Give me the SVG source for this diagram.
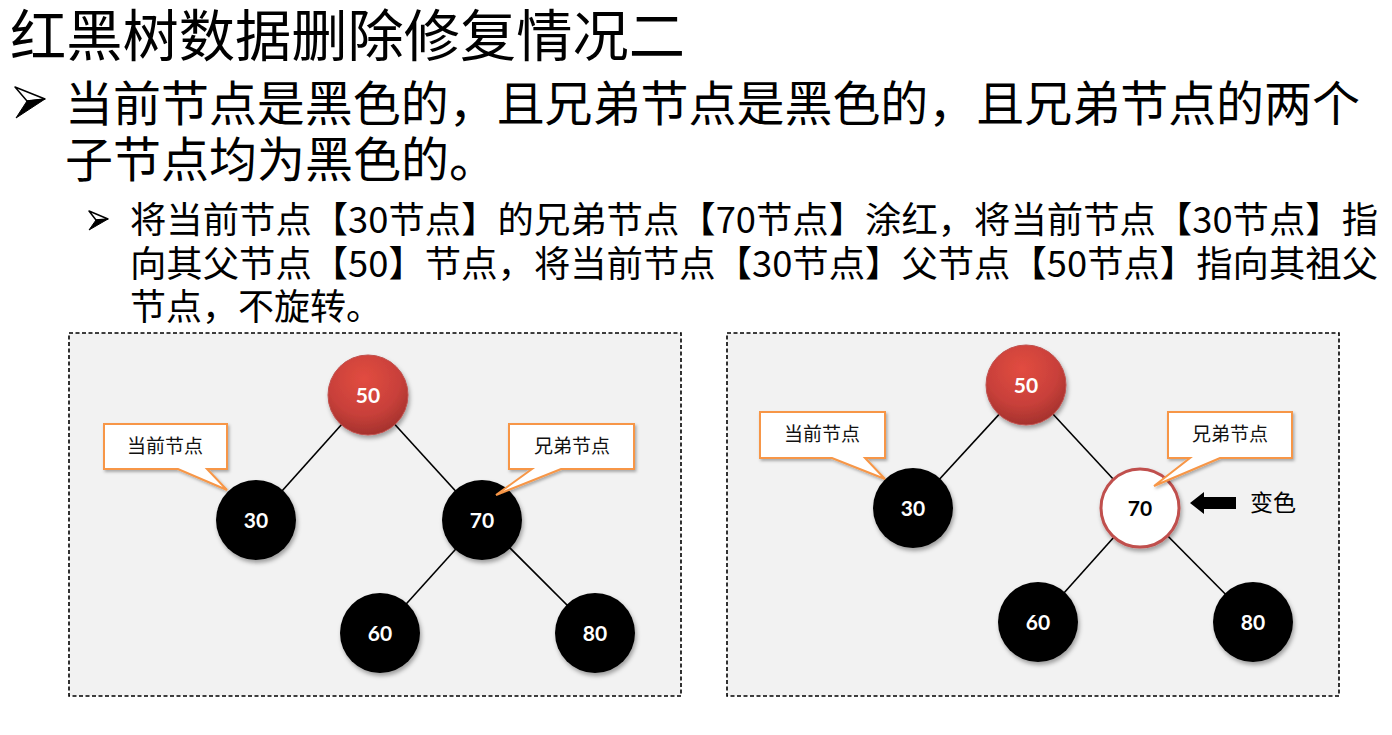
<svg xmlns="http://www.w3.org/2000/svg" width="1392" height="735" viewBox="0 0 1392 735">
<defs>
<radialGradient id="red" cx="0.45" cy="0.3" r="0.75">
<stop offset="0" stop-color="#e24c40"/>
<stop offset="0.6" stop-color="#c8403a"/>
<stop offset="1" stop-color="#9e2f2a"/>
</radialGradient>
<filter id="sh" x="-30%" y="-30%" width="160%" height="170%">
<feDropShadow dx="1.5" dy="3" stdDeviation="2" flood-color="#000" flood-opacity="0.35"/>
</filter>
<filter id="shc" x="-20%" y="-20%" width="140%" height="150%">
<feDropShadow dx="1.5" dy="2" stdDeviation="1.5" flood-color="#000" flood-opacity="0.3"/>
</filter>
<style>
.t{font-family:"Noto Sans CJK SC","Noto Sans",sans-serif;fill:#000}
.panel{fill:#f2f2f2;stroke:#000;stroke-width:1.6;stroke-dasharray:4 2.5}
.edge{stroke:#000;stroke-width:1.6;fill:none}
.blk{fill:#000;filter:url(#sh)}
.redn{fill:url(#red);stroke:#c0504d;stroke-width:1;filter:url(#sh)}
.wht{fill:#fff;stroke:#c0504d;stroke-width:3;filter:url(#sh)}
.lbl{font-family:Lato,"Open Sans",sans-serif;font-weight:bold;font-size:21px;fill:#fff;text-anchor:middle}
.lblk{fill:#000}
.call{fill:#fff;stroke:#f79646;stroke-width:2;stroke-linejoin:miter;filter:url(#shc)}
.ct{font-family:"Noto Sans CJK SC",sans-serif;font-size:19px;fill:#111;text-anchor:middle}
.bw{fill:#fff;stroke:#000;stroke-width:1.5;stroke-linejoin:round}
.bk{fill:#000;stroke:#000;stroke-width:1;stroke-linejoin:round}
</style>
</defs>
<rect width="1392" height="735" fill="#fff"/>

<g id="title">
<text class="t" x="10" y="56" font-size="56" textLength="675" lengthAdjust="spacingAndGlyphs">红黑树数据删除修复情况二</text>
</g>

<g id="bullet1">
<polygon class="bw" points="15,87 45,99 27,101"/>
<polygon class="bk" points="27,101 45,99 16,118"/>
<text class="t" x="65" y="121" font-size="48" textLength="1295" lengthAdjust="spacingAndGlyphs">当前节点是黑色的，且兄弟节点是黑色的，且兄弟节点的两个</text>
<text class="t" x="65" y="177" font-size="48">子节点均为黑色的。</text>
</g>

<g id="bullet2">
<polygon class="bw" points="89,211 108,219 96,220"/>
<polygon class="bk" points="96,220 108,219 89,230"/>
<text class="t" x="130" y="233" font-size="36" textLength="1248" lengthAdjust="spacingAndGlyphs">将当前节点【30节点】的兄弟节点【70节点】涂红，将当前节点【30节点】指</text>
<text class="t" x="130" y="277" font-size="36" textLength="1248" lengthAdjust="spacingAndGlyphs">向其父节点【50】节点，将当前节点【30节点】父节点【50节点】指向其祖父</text>
<text class="t" x="130" y="320" font-size="36">节点，不旋转。</text>
</g>

<g id="panel-left">
<rect class="panel" x="69" y="333" width="612" height="363"/>
</g>
<g id="panel-right">
<rect class="panel" x="727" y="333" width="612" height="363"/>
</g>

<g id="connectors">
<line class="edge" x1="368" y1="395" x2="256" y2="520"/>
<line class="edge" x1="368" y1="395" x2="482" y2="520"/>
<line class="edge" x1="482" y1="520" x2="380" y2="633"/>
<line class="edge" x1="482" y1="520" x2="595" y2="633"/>
<line class="edge" x1="1026" y1="385" x2="913" y2="508"/>
<line class="edge" x1="1026" y1="385" x2="1140" y2="508"/>
<line class="edge" x1="1140" y1="508" x2="1038" y2="622"/>
<line class="edge" x1="1140" y1="508" x2="1253" y2="622"/>
</g>

<g id="L50"><circle class="redn" cx="368" cy="395" r="40"/><text class="lbl" x="368" y="403">50</text></g>
<g id="L30"><circle class="blk" cx="256" cy="520" r="40"/><text class="lbl" x="256" y="528">30</text></g>
<g id="L70"><circle class="blk" cx="482" cy="520" r="40"/><text class="lbl" x="482" y="528">70</text></g>
<g id="L60"><circle class="blk" cx="380" cy="633" r="40"/><text class="lbl" x="380" y="641">60</text></g>
<g id="L80"><circle class="blk" cx="595" cy="633" r="40"/><text class="lbl" x="595" y="641">80</text></g>

<g id="L-call-current">
<path class="call" d="M104,424 H227 V469 H207 L227,490 L178,469 H104 Z"/>
<text class="ct" x="165" y="453">当前节点</text>
</g>
<g id="L-call-sibling">
<path class="call" d="M509,424 H634 V469 H561 L496,495 L532,469 H509 Z"/>
<text class="ct" x="572" y="453">兄弟节点</text>
</g>

<g id="R50"><circle class="redn" cx="1026" cy="385" r="40"/><text class="lbl" x="1026" y="393">50</text></g>
<g id="R30"><circle class="blk" cx="913" cy="508" r="40"/><text class="lbl" x="913" y="516">30</text></g>
<g id="R70"><circle class="wht" cx="1140" cy="508" r="39"/><text class="lbl lblk" x="1140" y="516">70</text></g>
<g id="R60"><circle class="blk" cx="1038" cy="622" r="40"/><text class="lbl" x="1038" y="630">60</text></g>
<g id="R80"><circle class="blk" cx="1253" cy="622" r="40"/><text class="lbl" x="1253" y="630">80</text></g>

<g id="R-call-current">
<path class="call" d="M760,412 H885 V458 H865 L885,479 L832,458 H760 Z"/>
<text class="ct" x="822" y="441">当前节点</text>
</g>
<g id="R-call-sibling">
<path class="call" d="M1168,412 H1292 V458 H1220 L1154,486 L1190,458 H1168 Z"/>
<text class="ct" x="1230" y="441">兄弟节点</text>
</g>

<g id="recolor">
<polygon points="1190,503 1204,492 1204,497 1236,497 1236,509 1204,509 1204,514" fill="#000"/>
<text class="t" x="1250" y="511" font-size="23">变色</text>
</g>
</svg>
